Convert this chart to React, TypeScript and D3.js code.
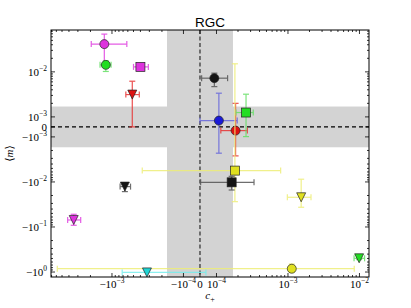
import * as d3 from 'd3'

// ---- data ----
const pointShape = ['circle', 'circle', 'square', 'tri', 'circle', 'circle', 'circle', 'square',
  'square', 'square', 'tri', 'tri', 'tri', 'circle', 'tri', 'tri']
const pointGroup = ['magenta', 'green', 'magenta', 'red', 'black', 'blue', 'red', 'green',
  'yellow', 'black', 'yellow', 'black', 'magenta', 'yellow', 'cyan', 'green']
const cPlus = [-1.28e-3, -1.22e-3, -4.0e-4, -5.2e-4, 8.7e-5, 1.08e-4, 1.85e-4, 2.59e-4,
  1.81e-4, 1.63e-4, 1.53e-3, -6.6e-4, -3.43e-3, 1.13e-3, -3.24e-4, 9.9e-3]
const cPlusLo = [-1.95e-3, -1.47e-3, -5.0e-4, -6.4e-4, 1.0e-5, 0, 1.15e-4, 1.87e-4,
  -3.77e-4, 4e-6, 9.8e-4, -7.7e-4, -4.17e-3, -5.82e-3, -7.2e-4, 8.4e-3]
const cPlusHi = [-6.2e-4, -1.03e-3, -3.1e-4, -4.15e-4, 1.43e-4, 1.95e-4, 2.7e-4, 3.27e-4,
  7.9e-4, 3.35e-4, 2.1e-3, -5.5e-4, -2.74e-3, 8.46e-3, 3.6e-5, 1.18e-2]
const mean = [0.0413, 0.0143, 0.0129, 3.13e-3, 7.24e-3, 6.3e-4, -3.7e-4, 1.25e-3,
  -5.6e-3, -0.0102, -0.0219, -0.0127, -0.0699, -0.845, -1.02, -0.496]
const meanLo = [0.0143, 0.0102, 0.0121, 0, 4.7e-3, -2.3e-3, -2.64e-3, -9.7e-4,
  -0.0274, -0.0151, -0.0365, -0.0164, -0.0917, -1.0, -1.02, -0.53]
const meanHi = [0.0689, 0.0175, 0.0137, 6.2e-3, 9.35e-3, 3.36e-3, 2.0e-3, 3.19e-3,
  0.0151, -7.5e-3, -8.7e-3, -0.0104, -0.0522, -0.664, -1.02, -0.46]

const xTicks = [-1e-3, -1e-4, 0, 1e-4, 1e-3, 1e-2]
const yTicks = [1e-2, 1e-3, 0, -1e-3, -1e-2, -1e-1, -1]
const xBand = 1.7e-4
const yBand = 1.7e-3

const palette: Record<string, { fill: string; err: string }> = {
  magenta: { fill: '#dd33dd', err: '#e040e0' },
  green: { fill: '#22dd22', err: '#66e066' },
  red: { fill: '#dd1111', err: '#e83333' },
  black: { fill: '#151515', err: '#555555' },
  blue: { fill: '#1a1ad8', err: '#6666dd' },
  yellow: { fill: '#e0e020', err: '#eeee77' },
  cyan: { fill: '#20d4d4', err: '#77eeee' },
}

// matplotlib-like symlog: linear inside +-thresh, log outside
function symlog(thresh: number, lin: number) {
  return (v: number) => {
    const a = Math.abs(v)
    if (a <= thresh) return (v / thresh) * lin
    return Math.sign(v) * (lin + Math.log10(a / thresh))
  }
}

const left = 51, right = 369, top = 30, bottom = 277
const tx = symlog(1e-4, 0.231)
const ty = symlog(1e-3, 0.222)
const xs = d3.scaleLinear().domain([tx(-7.13e-3), tx(1.36e-2)]).range([left, right])
const ys = d3.scaleLinear().domain([ty(0.085), ty(-1.29)]).range([top, bottom])
const X = (v: number) => xs(tx(v))
const Y = (v: number) => ys(ty(v))

function minors(lo: number, hi: number, decades: number[]) {
  const out: number[] = []
  decades.forEach(d => {
    for (let k = 2; k <= 9; k++) {
      const v = k * d
      if (v > lo && v < hi) out.push(v)
      if (-v > lo && -v < hi) out.push(-v)
    }
  })
  return out
}
const xMinor = minors(-7.13e-3, 1.36e-2, [1e-4, 1e-3, 1e-2])
const yMinor = minors(-1.29, 0.085, [1e-3, 1e-2, 1e-1])

const serif = '"Liberation Serif", "DejaVu Serif", serif'

function TickText({ v, x, y, anchor }: { v: number; x: number; y: number; anchor: string }) {
  if (v === 0) return <text x={x} y={y} textAnchor={anchor} fontSize={11} fontFamily={serif}>0</text>
  const e = Math.round(Math.log10(Math.abs(v)))
  return (
    <text x={x} y={y} textAnchor={anchor} fontSize={11} fontFamily={serif}>
      <tspan>{(v < 0 ? '\u2212' : '') + '10'}</tspan>
      <tspan dy={-5} fontSize={7.5}>{e < 0 ? '\u2212' + -e : String(e)}</tspan>
    </text>
  )
}

function Marker({ shape, x, y, fill }: { shape: string; x: number; y: number; fill: string }) {
  const stroke = '#222'
  if (shape === 'circle') return <circle cx={x} cy={y} r={4.5} fill={fill} stroke={stroke} strokeWidth={0.7} />
  if (shape === 'square') return <rect x={x - 4.5} y={y - 4.5} width={9} height={9} fill={fill} stroke={stroke} strokeWidth={0.7} />
  const s = 4.5
  return <path d={`M${x - s},${y - s}L${x + s},${y - s}L${x},${y + s}Z`} fill={fill} stroke={stroke} strokeWidth={0.7} />
}

export default function App() {
  const cap = 3
  return (
    <svg width={411} height={308} style={{ position: 'absolute', left: 0, top: 0, background: '#fff' }}>
      <rect x={0} y={0} width={411} height={308} fill="#fff" />
      {/* shaded bands */}
      <rect x={left} y={Y(yBand)} width={right - left} height={Y(-yBand) - Y(yBand)} fill="#d3d3d3" />
      <rect x={X(-xBand)} y={top} width={X(xBand) - X(-xBand)} height={bottom - top} fill="#d3d3d3" />
      <line x1={left} x2={right} y1={Y(0)} y2={Y(0)} stroke="#000" strokeWidth={1.1} strokeDasharray="4,3" />
      <line x1={X(0)} x2={X(0)} y1={top} y2={bottom} stroke="#555" strokeWidth={1.6} strokeDasharray="4,2.5" />

      {cPlus.map((c, i) => {
        const col = palette[pointGroup[i]]
        const px = X(c), py = Y(mean[i])
        const x0 = X(cPlusLo[i]), x1 = X(cPlusHi[i])
        const y0 = Y(meanLo[i]), y1 = Y(meanHi[i])
        return (
          <g key={i}>
            <g stroke={col.err} strokeWidth={1.2} opacity={0.85}>
              <line x1={x0} x2={x1} y1={py} y2={py} />
              <line x1={x0} x2={x0} y1={py - cap} y2={py + cap} />
              <line x1={x1} x2={x1} y1={py - cap} y2={py + cap} />
              {Math.abs(y0 - y1) > 0.5 && (
                <>
                  <line x1={px} x2={px} y1={y0} y2={y1} />
                  <line x1={px - cap} x2={px + cap} y1={y0} y2={y0} />
                  <line x1={px - cap} x2={px + cap} y1={y1} y2={y1} />
                </>
              )}
            </g>
            <Marker shape={pointShape[i]} x={px} y={py} fill={col.fill} />
          </g>
        )
      })}

      {/* ticks on all sides, pointing in */}
      <g stroke="#000" strokeWidth={0.8}>
        {xTicks.map(v => (
          <g key={'xt' + v}>
            <line x1={X(v)} x2={X(v)} y1={bottom} y2={bottom - 4} />
            <line x1={X(v)} x2={X(v)} y1={top} y2={top + 4} />
          </g>
        ))}
        {xMinor.map(v => (
          <g key={'xm' + v}>
            <line x1={X(v)} x2={X(v)} y1={bottom} y2={bottom - 2} />
            <line x1={X(v)} x2={X(v)} y1={top} y2={top + 2} />
          </g>
        ))}
        {yTicks.map(v => (
          <g key={'yt' + v}>
            <line x1={left} x2={left + 4} y1={Y(v)} y2={Y(v)} />
            <line x1={right} x2={right - 4} y1={Y(v)} y2={Y(v)} />
          </g>
        ))}
        {yMinor.map(v => (
          <g key={'ym' + v}>
            <line x1={left} x2={left + 2} y1={Y(v)} y2={Y(v)} />
            <line x1={right} x2={right - 2} y1={Y(v)} y2={Y(v)} />
          </g>
        ))}
      </g>
      <rect x={left} y={top} width={right - left} height={bottom - top} fill="none" stroke="#000" strokeWidth={1} />

      {xTicks.map(v => <TickText key={'xl' + v} v={v} x={X(v)} y={288} anchor="middle" />)}
      {yTicks.map(v => <TickText key={'yl' + v} v={v} x={47} y={Y(v) + 4} anchor="end" />)}

      <text x={(left + right) / 2} y={27} textAnchor="middle" fontSize={13.5}
        fontFamily='"Liberation Sans", Arial, sans-serif'>RGC</text>
      <text x={(left + right) / 2} y={299} textAnchor="middle" fontSize={11} fontFamily={serif}>
        <tspan fontStyle="italic">c</tspan>
        <tspan dy={2.5} fontSize={8}>+</tspan>
      </text>
      <text transform={`translate(13,${(top + bottom) / 2}) rotate(-90)`} textAnchor="middle" fontSize={11} fontFamily={serif}>
        {'\u27E8'}<tspan fontStyle="italic">m</tspan>{'\u27E9'}
      </text>
    </svg>
  )
}
